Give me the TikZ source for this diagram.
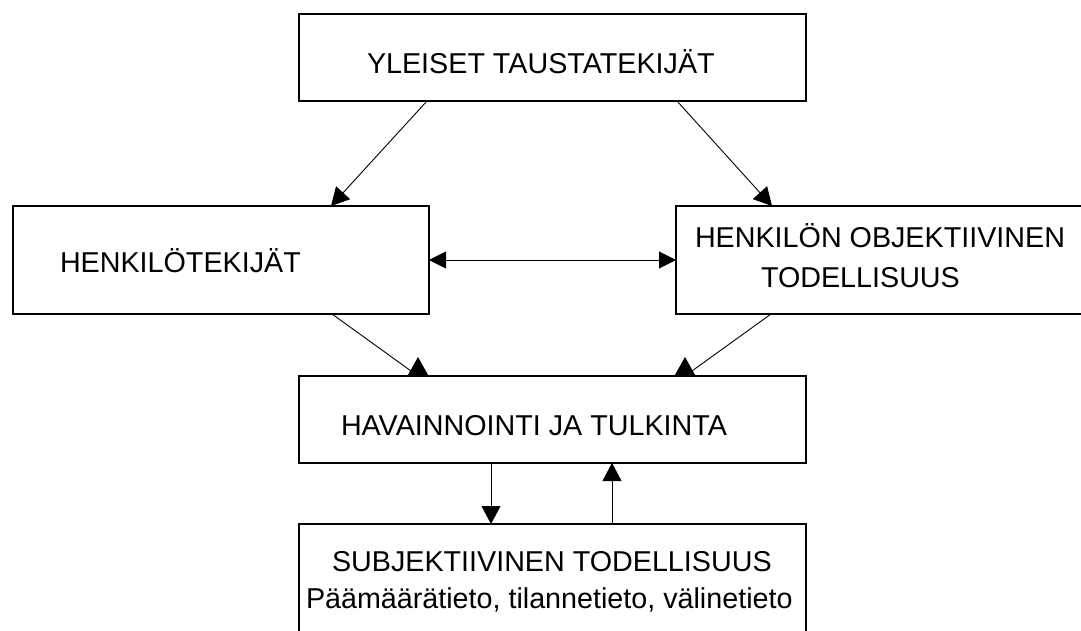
\documentclass[tikz,border=0pt]{standalone}
\usepackage{fontspec}
\setmainfont{Liberation Sans}
\usetikzlibrary{arrows.meta}
\tikzset{
  box/.style={draw=black, line width=1.1pt, fill=white, inner sep=0pt, outer sep=0pt, rectangle},
  lbl/.style={anchor=base west, inner sep=0pt, outer sep=0pt, font=\fontsize{28.7}{34}\selectfont},
  conn/.style={draw=black, line width=0.9pt, -{Triangle[length=18pt,width=19pt]}},
  upconn/.style={draw=black, line width=0.9pt, -{Triangle[length=19pt,width=21pt]}},
  dconn/.style={draw=black, line width=0.9pt, {Triangle[length=17pt,width=17pt]}-{Triangle[length=17pt,width=17pt]}}
}
\begin{document}
\begin{tikzpicture}[x=1pt,y=-1pt]
\useasboundingbox (0,0) rectangle (1081,630);
\clip (0,0) rectangle (1081,630);
\fill[white] (0,0) rectangle (1081,630);
% boxes
\node[box, minimum width=507pt, minimum height=87pt] (top) at (552.5,57.5) {};
\node[box, minimum width=416pt, minimum height=108pt] (left) at (221,260) {};
\node[box, minimum width=430pt, minimum height=108pt] (right) at (891,260) {};
\node[box, minimum width=507pt, minimum height=87pt] (hav) at (552.5,419.5) {};
\node[box, minimum width=507pt, minimum height=130pt] (subj) at (552.5,589) {};
% connector ends
\coordinate (tl) at (427,101);
\coordinate (tr) at (677,101);
\coordinate (ll) at (332,314);
\coordinate (rr) at (771,314);
\coordinate (hl) at (418,376);
\coordinate (hlt) at (418,357);
\coordinate (hr) at (685,376);
\coordinate (hrt) at (685,357);
% connectors
\draw[conn] (tl) -- (left.north west -| 331,0);
\draw[conn] (tr) -- (right.north west -| 772,0);
\draw[dconn] (left.east) -- (right.west);
\draw[upconn] (ll) -- (hl) -- (hlt);
\draw[upconn] (rr) -- (hr) -- (hrt);
\draw[conn] (hav.south -| 491,0) -- (subj.north -| 491,0);
\draw[conn] (subj.north -| 612,0) -- (hav.south -| 612,0);
% texts
\node[lbl] (t1) at (367,73) {YLEISET TAUSTATEKIJÄT};
\node[lbl] (t2) at (60,272) {HENKILÖTEKIJÄT};
\node[lbl] (t3) at (695,247) {HENKILÖN OBJEKTIIVINEN};
\node[lbl] (t4) at (761,287) {TODELLISUUS};
\node[lbl] (t5) at (341,435) {HAVAINNOINTI JA TULKINTA};
\node[lbl] (t6) at (332,571) {SUBJEKTIIVINEN TODELLISUUS};
\node[lbl] (t7) at (306,608) {Päämäärätieto, tilannetieto, välinetieto};
\end{tikzpicture}
\end{document}
